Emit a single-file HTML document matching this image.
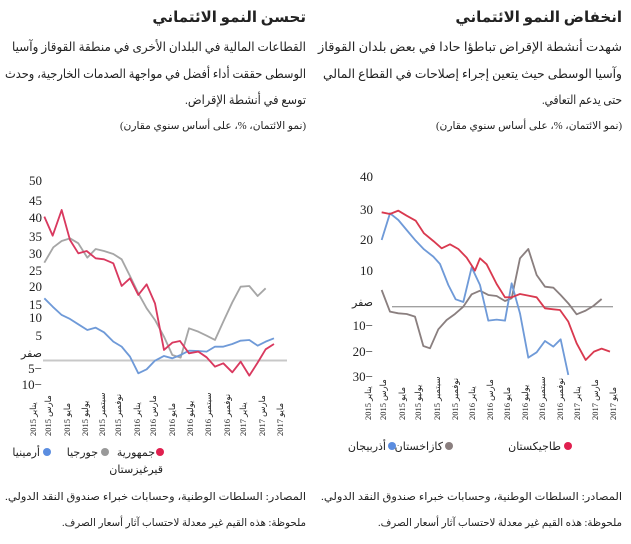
<!DOCTYPE html>
<html><head><meta charset="utf-8"><style>
html,body{margin:0;padding:0;background:#fff;width:631px;height:544px;overflow:hidden}
svg text{font-family:"Liberation Serif","DejaVu Sans",serif;fill:#222}
</style></head><body>
<svg width="631" height="544" viewBox="0 0 631 544" xmlns="http://www.w3.org/2000/svg">
<g direction="rtl">
<text x="306" y="22" text-anchor="start" font-size="15" font-weight="bold">تحسن النمو الائتماني</text>
<text x="306" y="51" text-anchor="start" font-size="12.5" textLength="294" lengthAdjust="spacingAndGlyphs">القطاعات المالية في البلدان الأخرى في منطقة القوقاز وآسيا</text>
<text x="306" y="78" text-anchor="start" font-size="12.5" textLength="301" lengthAdjust="spacingAndGlyphs">الوسطى حققت أداء أفضل في مواجهة الصدمات الخارجية، وحدث</text>
<text x="306" y="104" text-anchor="start" font-size="12.5" textLength="121" lengthAdjust="spacingAndGlyphs">توسع في أنشطة الإقراض.</text>
<text x="306" y="129" text-anchor="start" font-size="10.5" textLength="186" lengthAdjust="spacingAndGlyphs">(نمو الائتمان، %، على أساس سنوي مقارن)</text>

<text x="622" y="22" text-anchor="start" font-size="15" font-weight="bold">انخفاض النمو الائتماني</text>
<text x="622" y="51" text-anchor="start" font-size="12.5" textLength="304" lengthAdjust="spacingAndGlyphs">شهدت أنشطة الإقراض تباطؤا حادا في بعض بلدان القوقاز</text>
<text x="622" y="78" text-anchor="start" font-size="12.5" textLength="299" lengthAdjust="spacingAndGlyphs">وآسيا الوسطى حيث يتعين إجراء إصلاحات في القطاع المالي</text>
<text x="622" y="104" text-anchor="start" font-size="12.5" textLength="80" lengthAdjust="spacingAndGlyphs">حتى يدعم التعافي.</text>
<text x="622" y="129" text-anchor="start" font-size="10.5" textLength="186" lengthAdjust="spacingAndGlyphs">(نمو الائتمان، %، على أساس سنوي مقارن)</text>

<text x="306" y="500" text-anchor="start" font-size="10.5" textLength="301" lengthAdjust="spacingAndGlyphs">المصادر: السلطات الوطنية، وحسابات خبراء صندوق النقد الدولي.</text>
<text x="306" y="526" text-anchor="start" font-size="10.5" textLength="244" lengthAdjust="spacingAndGlyphs">ملحوظة: هذه القيم غير معدلة لاحتساب آثار أسعار الصرف.</text>
<text x="622" y="500" text-anchor="start" font-size="10.5" textLength="301" lengthAdjust="spacingAndGlyphs">المصادر: السلطات الوطنية، وحسابات خبراء صندوق النقد الدولي.</text>
<text x="622" y="526" text-anchor="start" font-size="10.5" textLength="244" lengthAdjust="spacingAndGlyphs">ملحوظة: هذه القيم غير معدلة لاحتساب آثار أسعار الصرف.</text>
</g>

<g font-size="13" text-anchor="end">
<text x="42" y="185">50</text><text x="42" y="205">45</text><text x="42" y="222">40</text><text x="42" y="241">35</text><text x="42" y="258">30</text><text x="42" y="275">25</text><text x="42" y="291">20</text><text x="42" y="309">15</text><text x="42" y="322">10</text><text x="42" y="340">5</text><text x="42" y="357" font-size="11">صفر</text><text x="42" y="373">5−</text><text x="42" y="389">10−</text>
</g>
<line x1="43" y1="360.5" x2="287" y2="360.5" stroke="#c8c8c8" stroke-width="2"/>
<g transform="translate(0,170) scale(0.3333)" fill="none" stroke-width="5.5" stroke-linejoin="round">
<polyline stroke="#a6a6a6" points="133,278 160,232 185,213 210,205 235,220 262,263 287,237 312,243 340,252 365,268 390,318 415,370 440,415 465,450 492,500 517,555 542,563 567,475 595,485 620,497 645,510 670,455 697,397 722,350 748,348 773,378 797,355"/>
<polyline stroke="#6f9ad8" points="133,385 158,410 185,435 210,447 235,463 262,480 287,473 312,487 340,515 365,530 390,560 415,610 440,598 465,572 492,558 517,565 542,555 567,542 595,543 620,545 645,530 670,530 697,522 722,512 748,510 773,527 797,515 822,505"/>
<polyline stroke="#d9395f" points="133,140 158,197 185,120 210,210 235,250 260,243 287,265 312,268 340,280 365,348 390,325 415,375 440,343 465,400 492,540 517,518 540,513 567,550 595,545 620,562 645,590 670,580 697,607 722,575 748,617 773,578 797,538 822,522"/>
</g>
<g font-size="13" text-anchor="end">
<text x="373" y="181">40</text><text x="373" y="214">30</text><text x="373" y="244">20</text><text x="373" y="275">10</text><text x="373" y="306" font-size="11">صفر</text><text x="373" y="330">10−</text><text x="373" y="356">20−</text><text x="373" y="381">30−</text>
</g>
<line x1="392" y1="306.7" x2="613" y2="306.7" stroke="#a0a0a0" stroke-width="1.3"/>
<g transform="translate(320,170) scale(0.3333)" fill="none" stroke-width="5.5" stroke-linejoin="round">
<polyline stroke="#8a7f7f" points="185,360 210,425 235,430 260,432 285,440 310,528 330,535 355,478 380,450 405,432 430,410 455,373 480,362 505,375 530,378 555,393 575,385 600,265 625,237 650,315 675,350 700,353 722,375 745,400 770,433 797,422 820,408 845,387"/>
<polyline stroke="#6f9ad8" points="185,210 210,130 235,150 260,180 287,212 312,238 340,260 360,282 385,345 407,388 430,396 455,292 480,345 505,452 530,449 555,452 575,340 600,430 625,563 650,547 675,513 700,530 722,508 745,615"/>
<polyline stroke="#d9394f" points="185,127 210,132 235,122 260,137 287,152 312,190 340,213 365,235 390,223 415,237 440,263 465,302 480,265 500,283 530,342 555,382 575,382 600,372 625,377 650,382 675,415 700,418 720,420 745,455 770,520 797,570 822,545 845,536 870,545"/>
</g>
<g font-size="8.5">
<text transform="translate(36,436) rotate(-90)">يناير 2015</text>
<text transform="translate(51,436) rotate(-90)">مارس 2015</text>
<text transform="translate(70,436) rotate(-90)">مايو 2015</text>
<text transform="translate(88,436) rotate(-90)">يوليو 2015</text>
<text transform="translate(105,436) rotate(-90)">سبتمبر 2015</text>
<text transform="translate(121,436) rotate(-90)">نوفمبر 2015</text>
<text transform="translate(140,436) rotate(-90)">يناير 2016</text>
<text transform="translate(156,436) rotate(-90)">مارس 2016</text>
<text transform="translate(175,436) rotate(-90)">مايو 2016</text>
<text transform="translate(193,436) rotate(-90)">يوليو 2016</text>
<text transform="translate(211,436) rotate(-90)">سبتمبر 2016</text>
<text transform="translate(230,436) rotate(-90)">نوفمبر 2016</text>
<text transform="translate(246,436) rotate(-90)">يناير 2017</text>
<text transform="translate(265,436) rotate(-90)">مارس 2017</text>
<text transform="translate(283,436) rotate(-90)">مايو 2017</text>

<text transform="translate(371,420) rotate(-90)">يناير 2015</text>
<text transform="translate(386,420) rotate(-90)">مارس 2015</text>
<text transform="translate(405,420) rotate(-90)">مايو 2015</text>
<text transform="translate(421,420) rotate(-90)">يوليو 2015</text>
<text transform="translate(440,420) rotate(-90)">سبتمبر 2015</text>
<text transform="translate(458,420) rotate(-90)">نوفمبر 2015</text>
<text transform="translate(475,420) rotate(-90)">يناير 2016</text>
<text transform="translate(493,420) rotate(-90)">مارس 2016</text>
<text transform="translate(510,420) rotate(-90)">مايو 2016</text>
<text transform="translate(528,420) rotate(-90)">يوليو 2016</text>
<text transform="translate(545,420) rotate(-90)">سبتمبر 2016</text>
<text transform="translate(563,420) rotate(-90)">نوفمبر 2016</text>
<text transform="translate(580,420) rotate(-90)">يناير 2017</text>
<text transform="translate(598,420) rotate(-90)">مارس 2017</text>
<text transform="translate(616,420) rotate(-90)">مايو 2017</text>
</g>
<g font-size="11" direction="rtl">
<circle cx="47" cy="452" r="4" fill="#5b8de0"/><text x="40" y="456">أرمينيا</text>
<circle cx="105" cy="452" r="4" fill="#999"/><text x="98" y="456">جورجيا</text>
<circle cx="160" cy="452" r="4" fill="#e0204f"/><text x="155" y="456">جمهورية</text><text x="163" y="473">قيرغيزستان</text>
<circle cx="568" cy="446" r="4" fill="#e0204f"/><text x="561" y="450">طاجيكستان</text>
<circle cx="449" cy="446" r="4" fill="#8a7f7f"/><text x="443" y="450">كازاخستان</text>
<circle cx="392" cy="446" r="4" fill="#5b8de0"/><text x="386" y="450">أذربيجان</text>
</g>
</svg>
</body></html>
